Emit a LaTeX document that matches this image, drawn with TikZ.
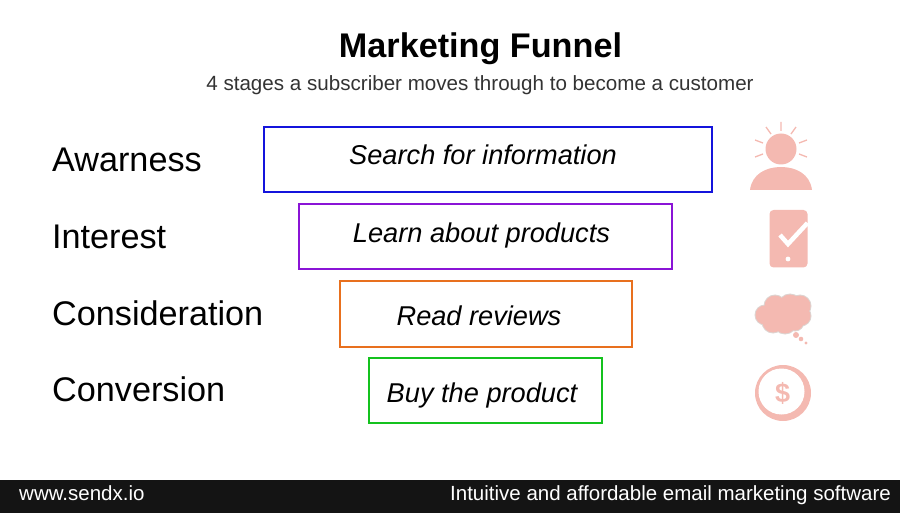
\documentclass[tikz,border=0pt]{standalone}
\usepackage{fontspec}
\setmainfont{Liberation Sans}
\definecolor{iconpink}{HTML}{F4B9B1}
\definecolor{cloudedge}{HTML}{DDD5D2}
\definecolor{barblack}{HTML}{141414}
\definecolor{boxblue}{HTML}{1414DC}
\definecolor{boxviolet}{HTML}{8A14D6}
\definecolor{boxorange}{HTML}{E8701E}
\definecolor{boxgreen}{HTML}{14C21E}
\tikzset{
  stagelabel/.style={anchor=base west, inner sep=0pt, font=\fontsize{34.2}{34.2}\selectfont},
  stagebox/.style={draw, rectangle, line width=2pt, inner sep=0pt, minimum height=65pt},
  boxtext/.style={anchor=base, inner sep=0pt, font=\fontsize{27.2}{27.2}\selectfont\itshape},
  bartext/.style={inner sep=0pt, text=white, font=\fontsize{20.5}{20.5}\selectfont},
}
\begin{document}
\begin{tikzpicture}[x=1pt,y=-1pt]
\useasboundingbox (0,0) rectangle (900,513);
\fill[barblack] (0,480) rectangle (900,513);

\node[anchor=base, inner sep=0pt, font=\fontsize{34.2}{34.2}\selectfont\bfseries] (title) at (480.5,58) {Marketing Funnel};
\node[anchor=base, inner sep=0pt, font=\fontsize{20.6}{20.6}\selectfont, text=black!80] (subtitle) at (480,90.5) {4 stages a subscriber moves through to become a customer};

\node[stagelabel] (awareness) at (52,172) {Awarness};
\node[stagelabel] (interest) at (52,249) {Interest};
\node[stagelabel] (consideration) at (52,325) {Consideration};
\node[stagelabel] (conversion) at (52,401) {Conversion};

\node[stagebox, draw=boxblue, minimum width=448pt] (search) at (488,160) {};
\node[stagebox, draw=boxviolet, minimum width=373pt] (learn) at (485.5,237) {};
\node[stagebox, draw=boxorange, minimum width=292pt] (read) at (486,314) {};
\node[stagebox, draw=boxgreen, minimum width=233pt] (buy) at (485.5,390.5) {};

\node[boxtext] (searchtext) at (483,165) {Search for information};
\node[boxtext] (learntext) at (481.5,243) {Learn about products};
\node[boxtext] (readtext) at (479,325) {Read reviews};
\node[boxtext] (buytext) at (482,402) {Buy the product};

\node[bartext, anchor=base west] (site) at (19,500) {www.sendx.io};
\node[bartext, anchor=base east] (slogan) at (891,500) {Intuitive and affordable email marketing software};

% person
\fill[iconpink] (781,149) circle (15.5);
\fill[iconpink] (750,190) .. controls (752,174) and (766,167) .. (781,167) .. controls (796,167) and (810,174) .. (812,190) -- cycle;
\draw[iconpink, line width=1.3pt] (781,122) -- (781,131) (766,127) -- (771,134) (796,127) -- (791,134)
  (755,140) -- (763,143) (807,140) -- (799,143) (755,157) -- (763,154) (807,157) -- (799,154);
% phone
\fill[iconpink, rounded corners=4pt] (769.5,210) rectangle (807.5,267.5);
\draw[white, line width=4.5pt] (780,235) -- (788,244) -- (807.5,223);
\fill[white] (788,259) circle (2.4);
% cloud
\fill[cloudedge] (765,315) circle (10.5) (775,306) circle (11.5) (790,306) circle (12.5) (800,306) circle (11.5) (801,316) circle (10.5) (785,322) circle (12.5) (773,322) circle (11.5) (795,322) circle (9.5);
\fill[iconpink] (765,315) circle (9.5) (775,306) circle (10.5) (790,306) circle (11.5) (800,306) circle (10.5) (801,316) circle (9.5) (785,322) circle (11.5) (773,322) circle (10.5) (795,322) circle (8.5);
\fill[iconpink] (796,335) circle (3) (801,339) circle (2.3) (806,343) circle (1.6);
% coin
\fill[iconpink] (783,393) circle (28);
\fill[white] (781.5,391.5) circle (23);
\node[inner sep=0pt, text=iconpink, font=\fontsize{27}{27}\selectfont\bfseries] (dollar) at (782.5,393) {\$};
\end{tikzpicture}
\end{document}
